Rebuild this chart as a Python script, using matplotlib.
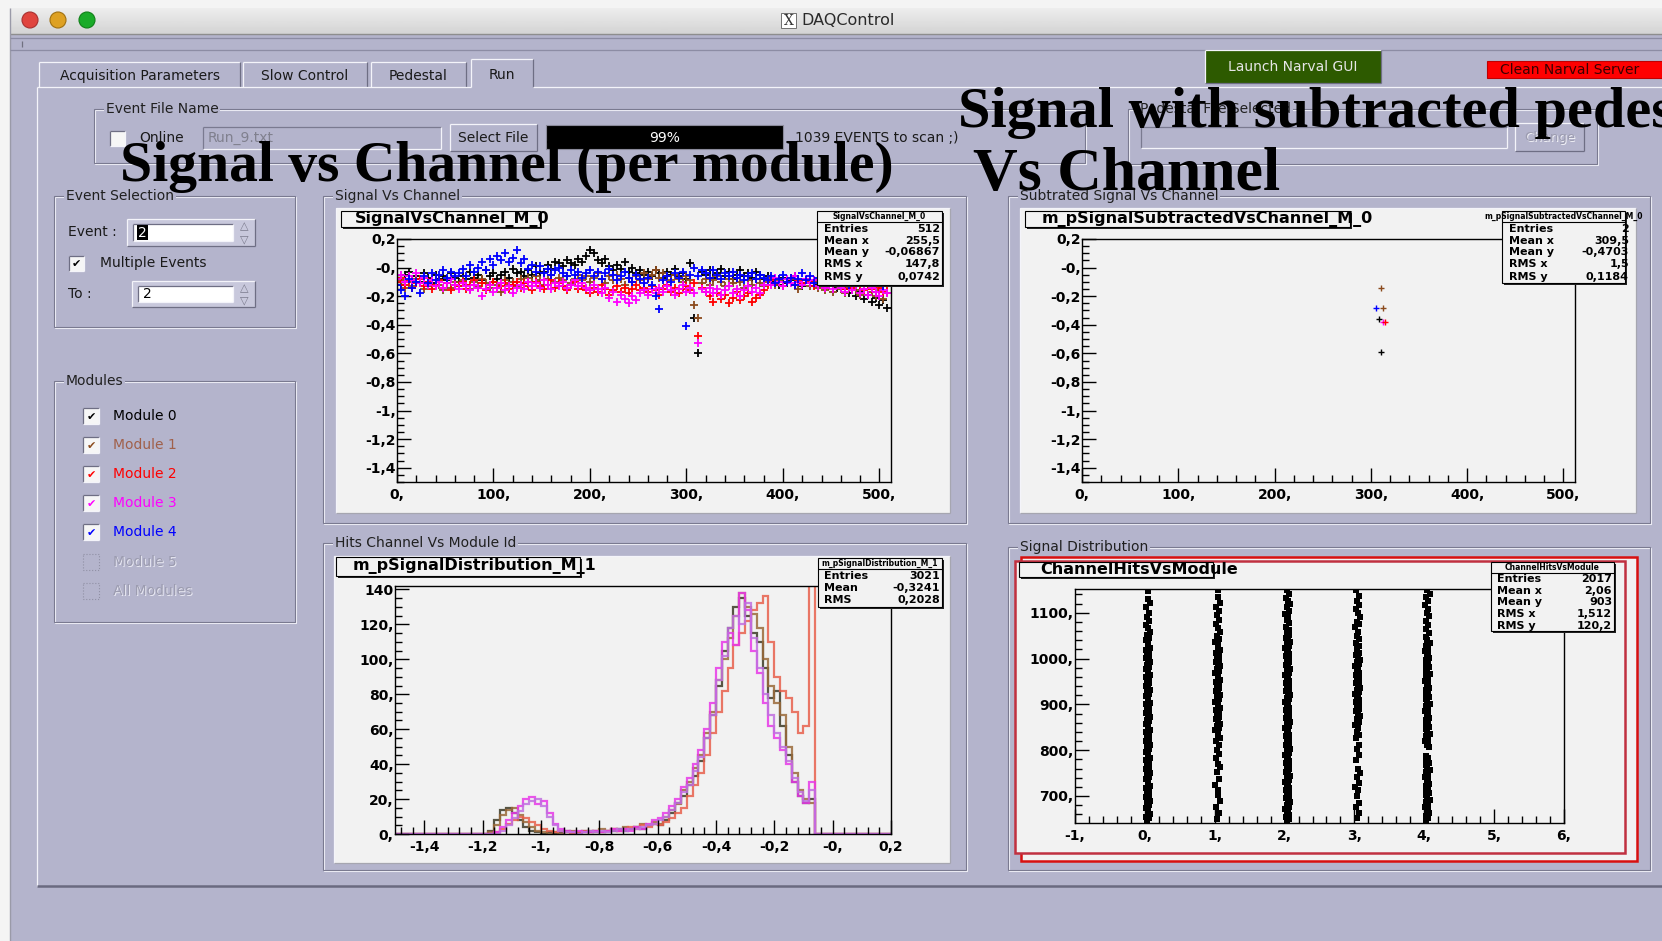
import matplotlib
matplotlib.use('Agg')
import matplotlib.pyplot as plt
from matplotlib.patches import Rectangle, Circle
from matplotlib.ticker import MultipleLocator
import numpy as np

W, H = 1662, 941
BG = '#b4b4cc'
CANVAS = '#f2f2f2'

# ---------------- values ----------------
module_names = ['Module 0', 'Module 1', 'Module 2', 'Module 3', 'Module 4', 'Module 5', 'All Modules']
module_colors = ['#000000', '#8b4a1c', '#ff0000', '#ff00ff', '#0000ff']
label_colors = ['#000000', '#a0604a', '#ff0000', '#ff00ff', '#0000ff', '#9c9cb0', '#9c9cb0']

# signal vs channel (one value every 4 channels, 0..508)
sig_m0 = [-0.08, -0.12, -0.05, -0.03, -0.09, -0.06, -0.10, -0.04, -0.07, -0.11, -0.05, -0.08, -0.06, -0.09, -0.04, -0.07,
          -0.10, -0.06, -0.08, -0.03, -0.07, -0.05, -0.09, -0.02, -0.06, -0.04, -0.08, -0.05, -0.03, -0.07, -0.01, -0.04,
          -0.03, -0.06, -0.02, -0.05, 0.01, -0.04, -0.03, 0.02, -0.01, 0.04, 0.03, 0.01, 0.05, 0.03, 0.02, 0.06,
          0.04, 0.08, 0.12, 0.10, 0.05, 0.03, 0.06, 0.01, -0.02, 0.02, -0.01, 0.04, -0.03, 0.00, -0.04, -0.02,
          -0.05, -0.03, -0.06, -0.02, -0.04, -0.07, -0.03, -0.05, -0.01, -0.06, -0.04, -0.08, 0.03, -0.35, -0.60, -0.03,
          -0.05, -0.02, -0.07, -0.04, -0.01, -0.06, -0.03, -0.08, -0.05, -0.02, -0.06, -0.04, -0.07, -0.03, -0.05, -0.08,
          -0.06, -0.10, -0.08, -0.12, -0.07, -0.11, -0.09, -0.06, -0.10, -0.13, -0.08, -0.11, -0.09, -0.12, -0.07, -0.10,
          -0.12, -0.09, -0.14, -0.11, -0.15, -0.18, -0.13, -0.20, -0.17, -0.22, -0.19, -0.24, -0.21, -0.26, -0.23, -0.28]
sig_m1 = [-0.12, -0.09, -0.14, -0.10, -0.13, -0.08, -0.11, -0.15, -0.10, -0.13, -0.09, -0.12, -0.16, -0.11, -0.14, -0.10,
          -0.13, -0.09, -0.12, -0.15, -0.10, -0.13, -0.08, -0.11, -0.14, -0.10, -0.12, -0.17, -0.09, -0.12, -0.10, -0.13,
          -0.08, -0.11, -0.07, -0.10, -0.06, -0.09, -0.12, -0.08, -0.05, -0.10, -0.07, -0.09, -0.06, -0.11, -0.08, -0.05,
          -0.09, -0.06, -0.10, -0.07, -0.04, -0.08, -0.11, -0.06, -0.09, -0.05, -0.08, -0.12, -0.07, -0.10, -0.06, -0.09,
          -0.04, -0.08, -0.05, -0.02, -0.07, -0.04, -0.06, -0.09, -0.05, -0.08, -0.10, -0.06, -0.09, -0.26, -0.35, -0.11,
          -0.08, -0.12, -0.09, -0.06, -0.10, -0.13, -0.08, -0.11, -0.07, -0.10, -0.14, -0.09, -0.12, -0.08, -0.11, -0.13,
          -0.10, -0.07, -0.12, -0.09, -0.13, -0.10, -0.08, -0.12, -0.15, -0.11, -0.09, -0.13, -0.10, -0.14, -0.11, -0.16,
          -0.13, -0.17, -0.12, -0.15, -0.18, -0.14, -0.11, -0.16, -0.19, -0.15, -0.13, -0.17, -0.20, -0.16, -0.22, -0.18]
sig_m2 = [-0.10, -0.07, -0.12, -0.09, -0.14, -0.11, -0.08, -0.13, -0.10, -0.15, -0.12, -0.09, -0.14, -0.11, -0.16, -0.12,
          -0.13, -0.10, -0.15, -0.12, -0.09, -0.14, -0.11, -0.16, -0.12, -0.10, -0.14, -0.13, -0.11, -0.15, -0.12, -0.10,
          -0.14, -0.11, -0.13, -0.16, -0.10, -0.13, -0.15, -0.12, -0.09, -0.14, -0.11, -0.13, -0.16, -0.12, -0.10, -0.15,
          -0.13, -0.16, -0.18, -0.14, -0.17, -0.12, -0.15, -0.19, -0.16, -0.13, -0.17, -0.14, -0.18, -0.15, -0.12, -0.16,
          -0.14, -0.17, -0.13, -0.16, -0.19, -0.15, -0.12, -0.17, -0.14, -0.18, -0.15, -0.13, -0.16, -0.11, -0.48, -0.14,
          -0.17, -0.20, -0.24, -0.18, -0.22, -0.19, -0.25, -0.21, -0.17, -0.23, -0.20, -0.18, -0.24, -0.21, -0.19, -0.16,
          -0.12, -0.09, -0.11, -0.08, -0.13, -0.10, -0.07, -0.12, -0.09, -0.11, -0.08, -0.10, -0.13, -0.09, -0.11, -0.14,
          -0.10, -0.13, -0.09, -0.12, -0.15, -0.11, -0.14, -0.10, -0.13, -0.16, -0.12, -0.15, -0.11, -0.14, -0.17, -0.13]
sig_m3 = [-0.08, -0.05, -0.10, -0.06, -0.09, -0.04, -0.11, -0.07, -0.12, -0.09, -0.13, -0.10, -0.14, -0.11, -0.08, -0.12,
          -0.15, -0.11, -0.13, -0.16, -0.12, -0.14, -0.20, -0.15, -0.12, -0.17, -0.14, -0.11, -0.16, -0.13, -0.18, -0.14,
          -0.12, -0.15, -0.10, -0.13, -0.11, -0.14, -0.09, -0.12, -0.15, -0.11, -0.13, -0.10, -0.14, -0.12, -0.09, -0.13,
          -0.11, -0.14, -0.16, -0.12, -0.15, -0.18, -0.14, -0.21, -0.17, -0.24, -0.19, -0.22, -0.25, -0.20, -0.23, -0.18,
          -0.16, -0.19, -0.15, -0.18, -0.14, -0.17, -0.13, -0.16, -0.19, -0.15, -0.12, -0.17, -0.14, -0.18, -0.53, -0.15,
          -0.17, -0.14, -0.18, -0.15, -0.19, -0.16, -0.13, -0.18, -0.15, -0.20, -0.16, -0.13, -0.17, -0.14, -0.18, -0.12,
          -0.09, -0.12, -0.07, -0.10, -0.13, -0.08, -0.11, -0.06, -0.10, -0.12, -0.08, -0.11, -0.09, -0.13, -0.10, -0.14,
          -0.12, -0.15, -0.11, -0.14, -0.17, -0.13, -0.16, -0.12, -0.18, -0.15, -0.19, -0.14, -0.17, -0.20, -0.16, -0.18]
sig_m4 = [-0.12, -0.16, -0.20, -0.08, -0.14, -0.10, -0.18, -0.06, -0.11, -0.04, -0.09, -0.05, -0.02, -0.07, -0.03, -0.06,
          -0.04, -0.01, -0.06, 0.02, -0.03, 0.00, 0.04, -0.02, 0.06, 0.02, 0.08, 0.05, 0.10, 0.04, 0.07, 0.12,
          0.03, 0.06, -0.01, 0.02, -0.03, 0.01, -0.04, -0.01, -0.05, -0.02, 0.00, -0.04, -0.06, -0.02, -0.05, -0.03,
          -0.07, -0.04, -0.02, -0.06, -0.03, -0.08, -0.04, -0.01, -0.05, -0.09, -0.06, -0.03, -0.07, -0.10, -0.05, -0.08,
          -0.11, -0.07, -0.12, -0.20, -0.29, -0.09, -0.06, -0.10, -0.04, -0.07, -0.03, -0.41, -0.05, 0.00, -0.06, -0.02,
          -0.04, -0.07, -0.02, -0.05, -0.08, -0.04, -0.06, -0.03, -0.07, -0.05, -0.09, -0.06, -0.04, -0.08, -0.05, -0.07,
          -0.09, -0.06, -0.11, -0.08, -0.05, -0.10, -0.07, -0.12, -0.08, -0.04, -0.09, -0.06, -0.11, -0.07, -0.03, -0.08,
          -0.06, -0.10, -0.07, -0.04, -0.09, -0.12, -0.05, -0.08, -0.02, -0.06, -0.01, -0.09, -0.11, -0.07, -0.13, -0.10]
signal_by_module = [sig_m0, sig_m1, sig_m2, sig_m3, sig_m4]

# subtracted signal: the few surviving entries
sub_channel = [311, 305, 313, 308, 313, 315, 311]
sub_value = [-0.14, -0.28, -0.28, -0.36, -0.38, -0.38, -0.59]
sub_module = [1, 4, 1, 0, 3, 2, 0]

# signal distribution histograms, 0.02 bins from -1.2 to 0.0
hist_m0 = [0, 2, 8, 14, 15, 12, 8, 4, 2, 1,
           0, 1, 0, 1, 2, 1, 1, 2, 1, 2,
           1, 2, 2, 3, 2, 3, 4, 3, 5, 6,
           5, 8, 12, 18, 22, 28, 33, 42, 55, 68,
           85, 105, 118, 130, 135, 125, 115, 110, 95, 78,
           82, 62, 45, 30, 22, 18, 20, 0, 0, 0]
hist_m1 = [0, 1, 5, 11, 14, 15, 11, 7, 4, 2,
           1, 0, 1, 0, 1, 2, 1, 1, 2, 1,
           3, 2, 3, 2, 4, 3, 4, 6, 5, 7,
           6, 10, 14, 17, 25, 30, 38, 45, 58, 70,
           88, 100, 112, 125, 138, 130, 126, 118, 100, 85,
           75, 68, 50, 35, 25, 20, 18, 0, 0, 0]
hist_m2 = [0, 0, 1, 3, 6, 8, 10, 9, 7, 5,
           3, 2, 1, 2, 1, 0, 1, 2, 1, 2,
           1, 2, 3, 2, 3, 4, 3, 5, 4, 6,
           5, 7, 9, 12, 15, 22, 28, 35, 45, 58,
           70, 82, 95, 108, 115, 122, 128, 132, 136, 110,
           90, 82, 78, 70, 58, 62, 145, 0, 0, 0]
hist_m3 = [0, 0, 1, 4, 8, 12, 16, 20, 21, 17,
           19, 12, 6, 3, 2, 1, 2, 1, 1, 2,
           1, 2, 3, 2, 3, 2, 4, 3, 6, 8,
           9, 12, 16, 20, 27, 32, 40, 48, 60, 75,
           95, 110, 115, 108, 138, 128, 105, 92, 75, 62,
           55, 48, 40, 30, 22, 18, 30, 0, 0, 0]
hist_m4 = [0, 0, 0, 2, 5, 9, 13, 17, 19, 20,
           16, 10, 5, 2, 1, 1, 0, 1, 2, 1,
           2, 1, 2, 3, 2, 3, 3, 4, 5, 6,
           8, 10, 14, 18, 24, 28, 36, 44, 55, 68,
           88, 102, 118, 125, 120, 132, 112, 95, 80, 68,
           58, 50, 42, 32, 24, 19, 25, 0, 0, 0]
hist_by_module = [hist_m0, hist_m1, hist_m2, hist_m3, hist_m4]
hist_colors = ['#3c3a26', '#9a6a3a', '#e8604c', '#e838e8', '#c070e0']

# channel hits vs module id
hits_m0 = [646, 651, 655, 660, 664, 669, 674, 680, 684, 688, 693, 698, 703, 707, 712, 718, 722, 727, 731, 737,
           741, 745, 750, 756, 760, 764, 769, 774, 779, 783, 788, 792, 797, 802, 806, 811, 816, 821, 825, 830,
           835, 839, 844, 849, 853, 858, 863, 867, 872, 877, 881, 886, 890, 895, 900, 904, 909, 913, 918, 923,
           927, 932, 936, 941, 946, 950, 955, 959, 964, 969, 973, 978, 982, 987, 992, 996, 1001, 1005, 1010, 1015,
           1019, 1024, 1029, 1034, 1040, 1046, 1052, 1058, 1066, 1074, 1082, 1090, 1100, 1112, 1122, 1131, 1148]
hits_m1 = [650, 662, 676, 690, 702, 714, 725, 738, 752, 763, 770, 782, 791, 800, 812, 820, 826, 832, 838, 843,
           848, 853, 858, 863, 868, 872, 877, 882, 887, 892, 897, 902, 906, 911, 916, 921, 926, 930, 935, 940,
           944, 949, 954, 959, 963, 968, 973, 978, 983, 988, 993, 998, 1003, 1008, 1013, 1018, 1024, 1030, 1036,
           1042, 1050, 1058, 1066, 1075, 1085, 1095, 1105, 1112, 1122, 1135, 1150]
hits_m2 = [645, 650, 654, 659, 663, 668, 672, 677, 681, 686, 690, 695, 699, 704, 708, 713, 717, 722, 726, 731,
           735, 740, 744, 749, 753, 758, 762, 767, 771, 776, 780, 785, 789, 794, 798, 803, 807, 812, 816, 821,
           825, 830, 834, 839, 843, 848, 852, 857, 861, 866, 870, 875, 879, 884, 888, 893, 897, 902, 906, 911,
           915, 920, 924, 929, 933, 938, 942, 947, 951, 956, 960, 965, 969, 974, 978, 983, 987, 992, 996, 1001,
           1005, 1010, 1014, 1019, 1023, 1028, 1032, 1037, 1041, 1046, 1051, 1057, 1063, 1070, 1077, 1084, 1091,
           1098, 1105, 1112, 1119, 1126, 1133, 1141, 1149]
hits_m3 = [652, 663, 676, 684, 700, 712, 720, 728, 742, 751, 760, 778, 790, 803, 812, 826, 833, 840, 848, 856,
           862, 868, 874, 880, 885, 890, 895, 900, 905, 909, 914, 918, 923, 927, 932, 936, 941, 946, 950, 955,
           959, 964, 969, 973, 978, 983, 988, 993, 998, 1003, 1008, 1013, 1020, 1027, 1034, 1042, 1050, 1058,
           1068, 1076, 1080, 1090, 1100, 1108, 1118, 1126, 1136, 1150]
hits_m4 = [647, 652, 657, 662, 667, 672, 677, 682, 687, 692, 697, 702, 707, 712, 717, 722, 727, 732, 737, 742,
           747, 752, 757, 762, 767, 772, 777, 782, 787, 806, 811, 816, 821, 826, 831, 836, 841, 846, 851, 856,
           861, 866, 871, 876, 881, 886, 891, 896, 901, 906, 911, 916, 921, 926, 931, 936, 941, 946, 951, 956,
           961, 966, 971, 976, 981, 986, 991, 996, 1001, 1006, 1011, 1016, 1021, 1027, 1033, 1040, 1047, 1055,
           1064, 1073, 1082, 1092, 1100, 1108, 1117, 1126, 1135, 1142, 1149]
hits_by_module = [hits_m0, hits_m1, hits_m2, hits_m3, hits_m4]
hits_spread = [0.03, 0.06, 0.02, 0.07, 0.04, 0.05, 0.01, 0.06, 0.03, 0.08, 0.045, 0.02, 0.065]

# tick labels (ROOT prints them with a decimal comma)
sig_xticks = [0, 100, 200, 300, 400, 500]
sig_xlabels = ['0,', '100,', '200,', '300,', '400,', '500,']
sig_yticks = [0.2, 0.0, -0.2, -0.4, -0.6, -0.8, -1.0, -1.2, -1.4]
sig_ylabels = ['0,2', '-0,', '-0,2', '-0,4', '-0,6', '-0,8', '-1,', '-1,2', '-1,4']
hist_xticks = [-1.4, -1.2, -1.0, -0.8, -0.6, -0.4, -0.2, 0.0, 0.2]
hist_xlabels = ['-1,4', '-1,2', '-1,', '-0,8', '-0,6', '-0,4', '-0,2', '-0,', '0,2']
hist_yticks = [0, 20, 40, 60, 80, 100, 120, 140]
hist_ylabels = ['0,', '20,', '40,', '60,', '80,', '100,', '120,', '140']
hits_xticks = [-1, 0, 1, 2, 3, 4, 5, 6]
hits_xlabels = ['-1,', '0,', '1,', '2,', '3,', '4,', '5,', '6,']
hits_yticks = [700, 800, 900, 1000, 1100]
hits_ylabels = ['700,', '800,', '900,', '1000,', '1100,']

stats_sig = [('Entries', '512'), ('Mean x', '255,5'), ('Mean y', '-0,06867'), ('RMS x', '147,8'), ('RMS y', '0,0742')]
stats_sub = [('Entries', '2'), ('Mean x', '309,5'), ('Mean y', '-0,4703'), ('RMS x', '1,5'), ('RMS y', '0,1184')]
stats_hist = [('Entries', '3021'), ('Mean', '-0,3241'), ('RMS', '0,2028')]
stats_hits = [('Entries', '2017'), ('Mean x', '2,06'), ('Mean y', '903'), ('RMS x', '1,512'), ('RMS y', '120,2')]

plt.rcParams['font.family'] = ['DejaVu Sans']

fig = plt.figure(figsize=(W / 100, H / 100), dpi=100, facecolor='#f4f4f4')


def px_axes(x0, y0, x1, y1):
    return fig.add_axes([x0 / W, 1 - y1 / H, (x1 - x0) / W, (y1 - y0) / H])


def rect(ax, x0, y0, x1, y1, fc='none', ec='none', lw=1.0, ls='-', z=1):
    ax.add_patch(Rectangle((x0, y0), x1 - x0, y1 - y0, facecolor=fc,
                           edgecolor=ec, lw=lw, ls=ls, zorder=z))


def hline(ax, x0, x1, y, c, lw=0.9, z=2):
    ax.plot([x0, x1], [y, y], color=c, lw=lw, zorder=z, solid_capstyle='butt')


def vline(ax, x, y0, y1, c, lw=0.9, z=2):
    ax.plot([x, x], [y0, y1], color=c, lw=lw, zorder=z, solid_capstyle='butt')


def bevel(ax, x0, y0, x1, y1, fc, raised=True, z=2, lo='#6e6e84'):
    rect(ax, x0, y0, x1, y1, fc=fc, z=z)
    hi = '#f4f4fa'
    if not raised:
        hi, lo = lo, hi
    hline(ax, x0, x1, y0, hi, z=z + 0.1)
    vline(ax, x0, y0, y1, hi, z=z + 0.1)
    hline(ax, x0, x1, y1, lo, z=z + 0.1)
    vline(ax, x1, y0, y1, lo, z=z + 0.1)


def groupbox(ax, x0, y0, x1, y1, label):
    rect(ax, x0 + 1, y0 + 1, x1 + 1, y1 + 1, ec='#f0f0f8', lw=0.8)
    rect(ax, x0, y0, x1, y1, ec='#7a7a90', lw=0.8)
    ax.text(x0 + 12, y0, label, fontsize=10, va='center', ha='left', color='#202020',
            bbox=dict(fc=BG, ec='none', pad=1.2), zorder=3)


def checkbox(ax, x0, y0, size, color=None, disabled=False):
    if disabled:
        rect(ax, x0, y0, x0 + size, y0 + size, ec='#9090a4', lw=0.8, ls=':', z=3)
        return
    bevel(ax, x0, y0, x0 + size, y0 + size, '#f6f6f6', raised=False, z=3)
    if color is not None:
        ax.text(x0 + size / 2, y0 + size / 2 + 1, '\u2714', fontsize=8, color=color,
                ha='center', va='center', zorder=4)


def spinbox(ax, x0, y0, x1, y1, value, selected):
    bevel(ax, x0, y0, x1, y1, '#c8c8dc', raised=True, z=3)
    bevel(ax, x0 + 6, y0 + 5, x1 - 22, y1 - 5, 'white', raised=False, z=3.2)
    ax.text(x1 - 11, y0 + 7, '\u25b3', fontsize=8, color='#7a7a8c', ha='center', va='center', zorder=4)
    ax.text(x1 - 11, y1 - 7, '\u25bd', fontsize=8, color='#7a7a8c', ha='center', va='center', zorder=4)
    if selected:
        rect(ax, x0 + 10, y0 + 6, x0 + 21, y1 - 6, fc='black', z=4)
        ax.text(x0 + 15.5, (y0 + y1) / 2, value, fontsize=10, color='white', ha='center', va='center', zorder=5)
    else:
        ax.text(x0 + 11, (y0 + y1) / 2, value, fontsize=10, color='black', ha='left', va='center', zorder=5)


def title_box(ax, x0, y0, x1, y1, text, tx):
    rect(ax, x0 + 2, y0 + 2, x1 + 2, y1 + 2, fc='#222222', z=5)
    rect(ax, x0, y0, x1, y1, fc=CANVAS, ec='black', lw=0.8, z=6)
    ax.text(tx, (y0 + y1) / 2, text, fontsize=11.5, fontweight='bold', ha='left', va='center', zorder=7)


def stats_box(ax, x0, y0, x1, y1, header, rows, hy, row_y, lx, vx):
    rect(ax, x0 + 2, y0 + 2, x1 + 2, y1 + 2, fc='#222222', z=5)
    rect(ax, x0, y0, x1, y1, fc=CANVAS, ec='black', lw=0.8, z=6)
    ax.text((x0 + x1) / 2, (y0 + hy) / 2, header, fontsize=5.5, fontweight='bold',
            ha='center', va='center', zorder=7)
    hline(ax, x0, x1, hy, 'black', lw=0.8, z=7)
    for (name, val), ry in zip(rows, row_y):
        ax.text(lx, ry, name, fontsize=8, fontweight='bold', ha='left', va='center', zorder=7)
        ax.text(vx, ry, val, fontsize=8, fontweight='bold', ha='right', va='center', zorder=7)


def root_style(ax, xlim, ylim, xt, xl, yt, yl, xminor, yminor):
    ax.set_facecolor(CANVAS)
    ax.set_xlim(xlim)
    ax.set_ylim(ylim)
    ax.set_xticks(xt)
    ax.set_xticklabels(xl)
    ax.set_yticks(yt)
    ax.set_yticklabels(yl)
    ax.xaxis.set_minor_locator(MultipleLocator(xminor))
    ax.yaxis.set_minor_locator(MultipleLocator(yminor))
    ax.tick_params(which='both', direction='in', top=False, right=False, width=1.0, color='black')
    ax.tick_params(which='major', length=10, labelsize=10)
    ax.tick_params(which='minor', length=5)
    ax.tick_params(axis='y', pad=1)
    ax.tick_params(axis='x', pad=4)
    for lab in ax.get_xticklabels() + ax.get_yticklabels():
        lab.set_fontweight('bold')
    for s in ax.spines.values():
        s.set_linewidth(1.0)


# ---------------- window background ----------------
bg = px_axes(0, 0, W, H)
bg.set_xlim(0, W)
bg.set_ylim(H, 0)
bg.axis('off')

rect(bg, 10, 8, W, H, fc=BG, z=0)
grad = np.linspace(0.93, 0.83, 30).reshape(-1, 1)
bg.imshow(grad, cmap='gray', vmin=0, vmax=1, extent=[10, W, 34, 8], aspect='auto', zorder=0.5)
hline(bg, 10, W, 34, '#8e8e8e', lw=1.0)
vline(bg, 10, 8, H, '#9a9aa8', lw=1.0)
for cx, col, ecol in [(30, '#e0443e', '#a83030'), (58, '#dea123', '#a07010'), (87, '#1aab29', '#108018')]:
    bg.add_patch(Circle((cx, 20), 8, facecolor=col, edgecolor=ecol, lw=0.8, zorder=3))
rect(bg, 781, 13, 796, 28, fc='white', ec='#707070', lw=0.7, z=3)
bg.text(788.5, 20.5, 'X', fontsize=10, family='DejaVu Serif', ha='center', va='center', color='#333333', zorder=4)
bg.text(801, 20.5, 'DAQControl', fontsize=11.5, ha='left', va='center', color='#2a2a2a', zorder=4)

hline(bg, 10, W, 38, '#8c8ca4')
hline(bg, 10, W, 50, '#8c8ca4')
vline(bg, 22, 41, 47, '#707080')

# tabs
tabs = [('Acquisition Parameters', 39, 240), ('Slow Control', 243, 367), ('Pedestal', 371, 466), ('Run', 471, 533)]
for name, tx0, tx1 in tabs:
    top_y = 59 if name == 'Run' else 62
    hline(bg, tx0, tx1, top_y, '#f4f4fa')
    vline(bg, tx0, top_y, 87, '#f4f4fa')
    vline(bg, tx1, top_y, 87, '#6e6e84')
    bg.text((tx0 + tx1) / 2, 74.5 if name == 'Run' else 75.5, name, fontsize=10,
            ha='center', va='center', color='#1a1a1a', zorder=3)
hline(bg, 37, 471, 87, '#f4f4fa')
hline(bg, 533, W, 87, '#f4f4fa')
vline(bg, 37, 87, 886, '#f4f4fa')
hline(bg, 37, W, 886, '#6a6a80', lw=1.8)

# narval buttons
bevel(bg, 1205, 50, 1381, 83, '#2d5a00', raised=True, z=2)
bg.text(1293, 66.5, 'Launch Narval GUI', fontsize=10, color='#e6e6e6', ha='center', va='center', zorder=3)
rect(bg, 1487, 61, W, 78, fc='#ff0000', ec='#c00000', lw=0.8, z=2)
bg.text(1500, 69.5, 'Clean Narval Server', fontsize=10, color='#3a0000', ha='left', va='center', zorder=3)

# event file name row
groupbox(bg, 94, 109, 1085, 163, 'Event File Name')
checkbox(bg, 110, 131, 15)
bg.text(139, 138, 'Online', fontsize=10, ha='left', va='center', color='#1a1a1a', zorder=3)
bevel(bg, 203, 127, 441, 149, BG, raised=False, z=2, lo='#7a7a90')
bg.text(208, 138, 'Run_9.txt', fontsize=10, ha='left', va='center', color='#80808e', zorder=3)
bevel(bg, 450, 124, 537, 151, BG, raised=True, z=2)
bg.text(493.5, 138, 'Select File', fontsize=10, ha='center', va='center', color='#1a1a1a', zorder=3)
rect(bg, 546, 125, 783, 149, fc='black', ec='#8a8a9a', lw=0.8, z=2)
bg.text(664.5, 137.5, '99%', fontsize=10, ha='center', va='center', color='white', zorder=3)
bg.text(795, 138, '1039 EVENTS to scan ;)', fontsize=10, ha='left', va='center', color='#1a1a1a', zorder=3)

groupbox(bg, 1128, 109, 1597, 164, 'Pedestal File Selected')
bevel(bg, 1141, 127, 1507, 148, BG, raised=False, z=2, lo='#7a7a90')
bevel(bg, 1515, 123, 1584, 151, BG, raised=True, z=2)
bg.text(1550.5, 138, 'Change', fontsize=9.5, ha='center', va='center', color='#f0f0f6', zorder=3)
bg.text(1549.5, 137, 'Change', fontsize=9.5, ha='center', va='center', color='#9c9cb0', zorder=3.1)

# event selection
groupbox(bg, 54, 196, 295, 327, 'Event Selection')
bg.text(68, 232, 'Event :', fontsize=10, ha='left', va='center', color='#1a1a1a', zorder=3)
spinbox(bg, 127, 219, 255, 246, '2', True)
checkbox(bg, 69, 256, 15, '#000000')
bg.text(100, 263, 'Multiple Events', fontsize=10, ha='left', va='center', color='#1a1a1a', zorder=3)
bg.text(68, 294, 'To :', fontsize=10, ha='left', va='center', color='#1a1a1a', zorder=3)
spinbox(bg, 132, 281, 255, 307, '2', False)

# modules
groupbox(bg, 54, 381, 295, 622, 'Modules')
module_rows = [416, 445, 474, 503, 532, 562, 591]
for i, (name, ry) in enumerate(zip(module_names, module_rows)):
    disabled = i >= len(module_colors)
    checkbox(bg, 83, ry - 8, 16, None if disabled else module_colors[i], disabled)
    if disabled:
        bg.text(114, ry + 1, name, fontsize=10, ha='left', va='center', color='#e8e8f2', zorder=3)
    bg.text(113, ry, name, fontsize=10, ha='left', va='center', color=label_colors[i], zorder=3.1)

# plot group boxes and canvases
groupbox(bg, 323, 196, 966, 523, 'Signal Vs Channel')
groupbox(bg, 1008, 196, 1650, 523, 'Subtrated Signal Vs Channel')
groupbox(bg, 323, 543, 966, 870, 'Hits Channel Vs Module Id')
groupbox(bg, 1008, 547, 1650, 870, 'Signal Distribution')
bevel(bg, 336, 208, 950, 513, CANVAS, raised=True, z=2, lo='#a6a6b0')
bevel(bg, 1020, 208, 1636, 513, CANVAS, raised=True, z=2, lo='#a6a6b0')
bevel(bg, 334, 556, 950, 863, CANVAS, raised=True, z=2, lo='#a6a6b0')
rect(bg, 1021, 557, 1637, 861, fc=CANVAS, ec='#d81010', lw=1.8, z=2)
rect(bg, 1015, 561, 1625, 853, fc=CANVAS, ec='#c03040', lw=1.8, z=2.5)

# ---------------- the four ROOT pads ----------------
channels = np.arange(0, 512, 4)

ax1 = px_axes(397, 239, 891, 482)
root_style(ax1, (0, 512), (-1.5, 0.2), sig_xticks, sig_xlabels, sig_yticks, sig_ylabels, 20, 0.05)
for vals, col in zip(signal_by_module, module_colors):
    ax1.plot(channels, vals, ls='none', marker='+', ms=5.2, mew=1.3, color=col)

ax2 = px_axes(1082, 239, 1575, 482)
root_style(ax2, (0, 512), (-1.5, 0.2), sig_xticks, sig_xlabels, sig_yticks, sig_ylabels, 20, 0.05)
for ch, v, m in zip(sub_channel, sub_value, sub_module):
    ax2.plot(ch, v, ls='none', marker='+', ms=4, mew=1.0, color=module_colors[m])

ax3 = px_axes(395, 586, 891, 834)
root_style(ax3, (-1.5, 0.2), (0, 142), hist_xticks, hist_xlabels, hist_yticks, hist_ylabels, 0.04, 5)
hist_edges = np.round(-1.5 + 0.02 * np.arange(86), 2)
for counts, col in zip(hist_by_module, hist_colors):
    full = [0] * 15 + counts + [0] * 10
    ax3.stairs(full, hist_edges, color=col, lw=1.6, alpha=0.85)

ax4 = px_axes(1075, 589, 1564, 823)
root_style(ax4, (-1, 6), (641, 1152), hits_xticks, hits_xlabels, hits_yticks, hits_ylabels, 0.2, 20)
for mod, ys in enumerate(hits_by_module):
    dx = np.resize(hits_spread, len(ys))
    ax4.plot(mod + dx, ys, ls='none', marker='s', ms=4.2, mew=0, color='black')

# ---------------- overlay: ROOT boxes and the big captions ----------------
top = px_axes(0, 0, W, H)
top.set_xlim(0, W)
top.set_ylim(H, 0)
top.axis('off')
top.set_zorder(10)
top.patch.set_alpha(0)

title_box(top, 341, 211, 540, 227, 'SignalVsChannel_M_0', 355)
stats_box(top, 817, 211, 942, 285, 'SignalVsChannel_M_0', stats_sig, 222,
          [229, 241, 252, 264, 277], 824, 940)
title_box(top, 1025, 211, 1350, 227, 'm_pSignalSubtractedVsChannel_M_0', 1042)
stats_box(top, 1502, 211, 1625, 283, 'm_pSignalSubtractedVsChannel_M_0', stats_sub, 222,
          [229, 241, 252, 264, 277], 1509, 1629)
title_box(top, 336, 557, 580, 576, 'm_pSignalDistribution_M_1', 353)
stats_box(top, 818, 558, 942, 607, 'm_pSignalDistribution_M_1', stats_hist, 569,
          [576, 588, 600], 824, 940)
title_box(top, 1019, 562, 1213, 577, 'ChannelHitsVsModule', 1040)
stats_box(top, 1491, 562, 1614, 631, 'ChannelHitsVsModule', stats_hits, 573,
          [579, 591, 602, 614, 626], 1497, 1612)

serif = ['Liberation Serif', 'DejaVu Serif']
top.text(120, 181, 'Signal vs Channel (per module)', fontsize=41.5, fontweight='bold',
         family=serif, ha='left', va='baseline', zorder=20)
top.text(958, 127, 'Signal with subtracted pedes', fontsize=42, fontweight='bold',
         family=serif, ha='left', va='baseline', zorder=20)
top.text(973, 190, 'Vs Channel', fontsize=44.5, fontweight='bold',
         family=serif, ha='left', va='baseline', zorder=20)

fig.savefig('out.png', dpi=100)
